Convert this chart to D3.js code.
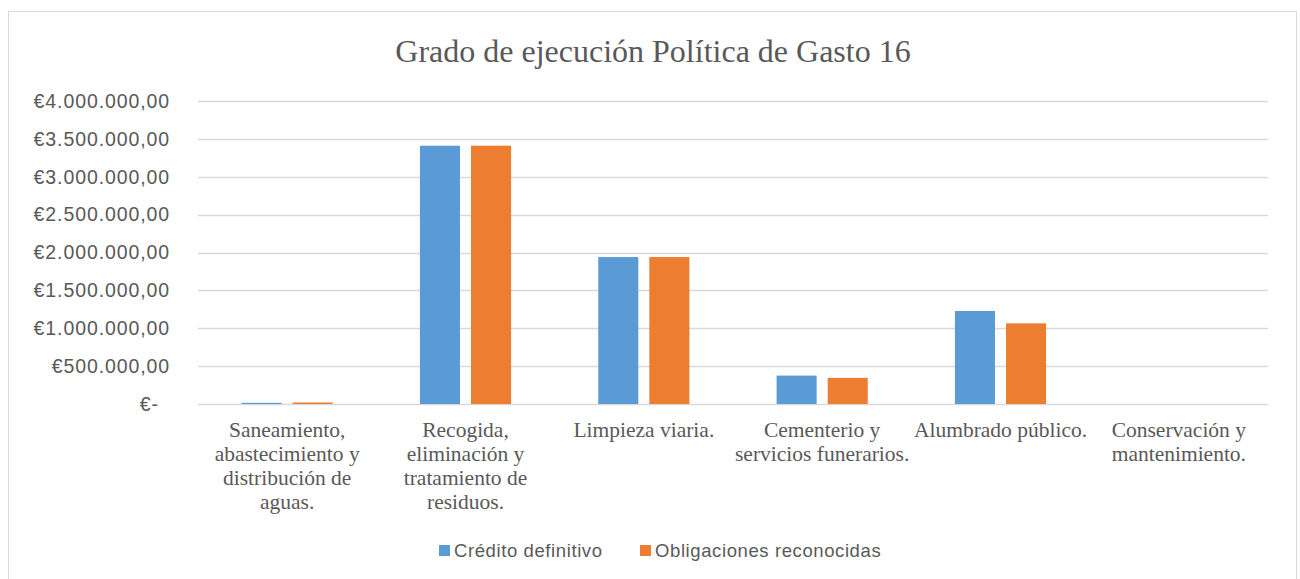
<!DOCTYPE html>
<html>
  <head>
    <meta charset="utf-8">
    <title>Grado de ejecución Política de Gasto 16</title>
    <script src="https://d3js.org/d3.v7.min.js" charset="utf-8"></script>
    <style>
      body {
        margin: 0;
        background: #fff;
        overflow: hidden;
      }
      .grid line {
        stroke: #d9d9d9;
        stroke-width: 1.3;
      }
      .ylab text {
        font-family: "Liberation Sans", Arial, sans-serif;
        font-size: 19.5px;
        letter-spacing: 0.9px;
        fill: #595959;
      }
      .xlab text {
        font-family: "Liberation Serif", "Times New Roman", serif;
        font-size: 21.5px;
        fill: #595959;
      }
      .legend text {
        font-family: "Liberation Sans", Arial, sans-serif;
        font-size: 18.5px;
        letter-spacing: 0.6px;
        fill: #595959;
      }
    </style>
  </head>
  <body>
    <script type="text/javascript">
      // data
      var categories = [
        "Saneamiento,\nabastecimiento y\ndistribución de\naguas.",
        "Recogida,\neliminación y\ntratamiento de\nresiduos.",
        "Limpieza viaria.",
        "Cementerio y\nservicios funerarios.",
        "Alumbrado público.",
        "Conservación y\nmantenimiento."
      ];
      var series = ["Crédito definitivo", "Obligaciones reconocidas"];
      var creditoDefinitivo = [15000, 3410000, 1940000, 375000, 1228000, 0];
      var obligacionesReconocidas = [20000, 3410000, 1940000, 345000, 1065000, 0];
      var yTicks = [0, 500000, 1000000, 1500000, 2000000, 2500000, 3000000, 3500000, 4000000];
      var colors = ["#5b9bd5", "#ed7d31"];

      var width = 1300,
          height = 579;

      var svg = d3.select("body").append("svg")
                  .attr("width", width)
                  .attr("height", height);

      // chart frame
      svg.append("rect")
        .attr("x", 8.5).attr("y", 11.5)
        .attr("width", 1288).attr("height", 580)
        .attr("fill", "none")
        .attr("stroke", "#d9d9d9");

      svg.append("text")
        .attr("x", 653).attr("y", 62)
        .attr("text-anchor", "middle")
        .style("font-family", "'Liberation Serif', 'Times New Roman', serif")
        .style("font-size", "32px")
        .style("fill", "#595959")
        .text("Grado de ejecución Política de Gasto 16");

      var plot = { left: 198, right: 1268, top: 101, bottom: 404 };

      var y = d3.scaleLinear()
                .domain([0, 4000000])
                .range([plot.bottom, plot.top]);

      var x = d3.scaleBand()
                .domain(d3.range(categories.length))
                .range([plot.left, plot.right]);

      var xs = d3.scaleBand()
                 .domain(d3.range(series.length))
                 .range([0, x.bandwidth()])
                 .paddingInner(0.216)
                 .paddingOuter(0.853);

      // gridlines
      svg.append("g").attr("class", "grid")
        .selectAll("line")
        .data(yTicks)
        .enter().append("line")
        .attr("x1", plot.left).attr("x2", plot.right)
        .attr("y1", function(d) { return Math.round(y(d)) + 0.5; })
        .attr("y2", function(d) { return Math.round(y(d)) + 0.5; });

      // y labels, Spanish accounting style
      var fmt = function(d) {
        if (d === 0) return "€-";
        var s = d3.format(",.2f")(d);
        return "€" + s.replace(/,/g, "#").replace(".", ",").replace(/#/g, ".");
      };
      svg.append("g").attr("class", "ylab")
        .selectAll("text")
        .data(yTicks)
        .enter().append("text")
        .attr("x", function(d) { return d === 0 ? 159 : 170; })
        .attr("y", function(d) { return y(d); })
        .attr("dy", "0.35em")
        .attr("text-anchor", "end")
        .text(fmt);

      // bars
      var values = [creditoDefinitivo, obligacionesReconocidas];
      values.forEach(function(vals, si) {
        svg.append("g")
          .selectAll("rect")
          .data(vals)
          .enter().append("rect")
          .attr("x", function(d, i) { return x(i) + xs(si); })
          .attr("width", xs.bandwidth())
          .attr("y", function(d) { return y(d); })
          .attr("height", function(d) { return plot.bottom - y(d); })
          .attr("fill", colors[si]);
      });

      // category labels
      var xl = svg.append("g").attr("class", "xlab");
      categories.forEach(function(c, i) {
        var t = xl.append("text")
          .attr("text-anchor", "middle")
          .attr("x", x(i) + x.bandwidth() / 2)
          .attr("y", 437);
        c.split("\n").forEach(function(line, li) {
          t.append("tspan")
            .attr("x", x(i) + x.bandwidth() / 2)
            .attr("dy", li === 0 ? 0 : 24)
            .text(line);
        });
      });

      // legend
      var legend = svg.append("g").attr("class", "legend");
      var legendX = [439, 640];
      series.forEach(function(s, i) {
        legend.append("rect")
          .attr("x", legendX[i]).attr("y", 545)
          .attr("width", 11).attr("height", 11)
          .attr("fill", colors[i]);
        legend.append("text")
          .attr("x", legendX[i] + 15).attr("y", 557)
          .text(s);
      });
    </script>
  </body>
</html>
